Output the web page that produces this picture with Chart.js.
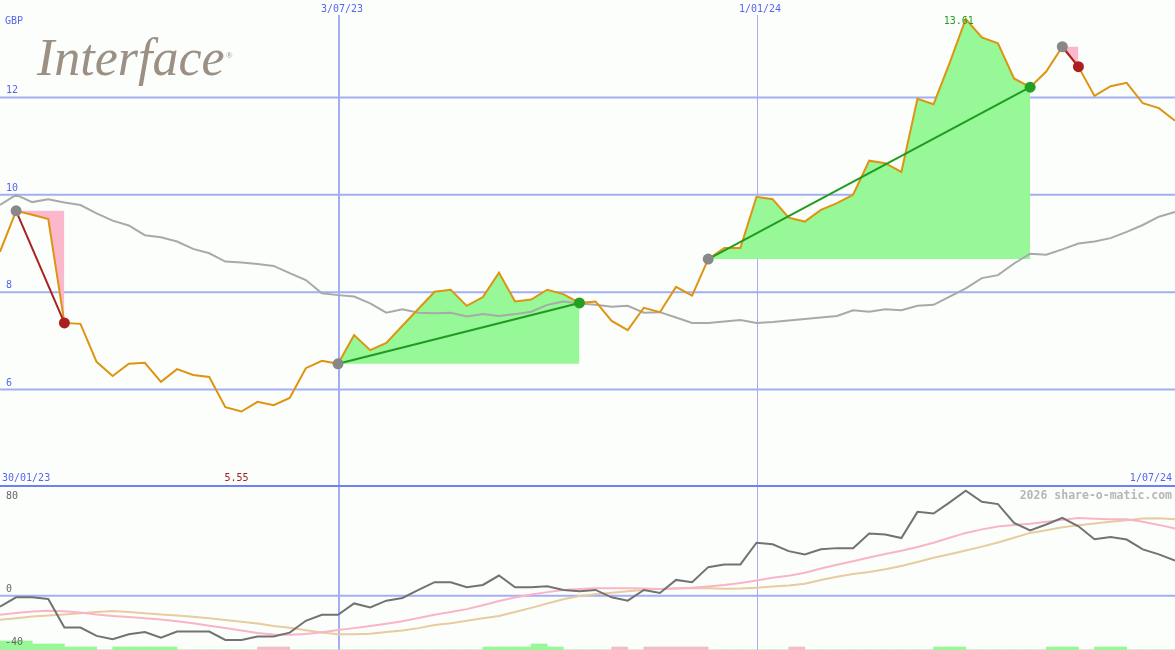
<!DOCTYPE html>
<html><head><meta charset="utf-8">
<script src="https://cdn.jsdelivr.net/npm/chart.js@4.4.1/dist/chart.umd.min.js"></script>
<style>
html,body{margin:0;padding:0;background:#fcfefc;}
#wrap{position:relative;width:1175px;height:650px;overflow:hidden;background:#fcfefc;}
#top{position:absolute;left:0;top:0;}
#bot{position:absolute;left:0;top:487px;}
</style></head><body>
<div id="wrap"><canvas id="top" width="1175" height="487"></canvas><canvas id="bot" width="1175" height="163"></canvas></div>
<script>
// ---------- data (weekly closes, index 0..73) ----------
const dateLabels = ['30/01/23', '3/07/23', '1/01/24', '1/07/24'];
const dateTickIdx = [0, 21, 47, 73];
const priceTicks = [6, 8, 10, 12];
const oscTicks = [80, 0, -40];

const price = [8.83,9.67,9.59,9.50,7.37,7.35,6.57,6.28,6.53,6.55,
  6.16,6.42,6.30,6.26,5.64,5.55,5.75,5.68,5.83,6.44,
  6.59,6.53,7.12,6.81,6.96,7.31,7.66,8.01,8.05,7.72,
  7.90,8.40,7.81,7.85,8.05,7.96,7.78,7.81,7.41,7.22,
  7.68,7.59,8.11,7.93,8.68,8.91,8.91,9.96,9.91,9.53,
  9.45,9.69,9.83,10.00,10.70,10.65,10.47,11.97,11.86,12.71,
  13.61,13.23,13.11,12.39,12.21,12.53,13.04,12.63,12.03,12.23,
  12.30,11.88,11.78,11.52];

const movAvg = [9.79,10.00,9.85,9.91,9.84,9.79,9.62,9.47,9.37,9.17,
  9.13,9.04,8.89,8.80,8.63,8.61,8.58,8.54,8.39,8.25,
  7.98,7.94,7.91,7.77,7.58,7.65,7.58,7.57,7.58,7.50,
  7.55,7.51,7.55,7.60,7.74,7.81,7.77,7.74,7.70,7.72,
  7.58,7.59,7.48,7.37,7.37,7.40,7.43,7.37,7.39,7.42,
  7.45,7.48,7.51,7.63,7.60,7.65,7.63,7.72,7.74,7.91,
  8.08,8.29,8.35,8.59,8.79,8.77,8.88,9.00,9.04,9.11,
  9.24,9.38,9.55,9.65];

const oscMain = [-8.1,-1.2,-1.2,-2.5,-23.5,-23.5,-29.6,-32,-28.4,-26.7,
  -30.9,-26.4,-26.4,-26.4,-32.6,-32.6,-30.1,-30.1,-27.2,-18.5,
  -14.1,-14.1,-5.7,-8.6,-3.7,-1.7,4.2,9.9,9.9,6.2,
  7.9,14.8,6.2,6.2,6.9,4.2,3.2,4.2,-1.2,-3.7,
  4.2,2.0,11.6,9.9,21.0,23.0,23.0,39.0,37.8,32.8,
  30.4,34.1,35.0,35.0,45.7,45.0,42.4,61.7,60.5,68.7,
  77.3,69.1,67.4,53.6,48.1,52.4,57.3,51.1,41.5,43.2,
  41.3,34.1,30.4,25.9];

const oscFast = [-14.1,-12.8,-11.6,-11.1,-11.4,-12.4,-13.9,-14.9,-15.7,-16.6,
  -17.5,-18.8,-20.3,-22.1,-23.8,-25.7,-27.5,-28.5,-28.8,-28.3,
  -26.9,-25.3,-23.9,-22.4,-20.7,-18.8,-16.4,-14.1,-12.0,-9.9,
  -7.0,-3.9,-1.4,0.9,2.6,4.1,4.9,5.4,5.4,5.4,
  5.3,5.0,5.2,5.8,6.8,7.9,9.3,11.2,13.2,14.7,
  16.9,20.0,22.7,25.3,28.1,30.6,33.0,35.8,38.9,42.6,
  46.2,48.8,50.9,52.1,53.0,54.4,55.8,57.2,56.7,56.3,
  56.3,54.4,52.1,49.4];

const oscSlow = [-17.8,-16.6,-15.4,-14.6,-13.8,-12.9,-12.0,-11.3,-12.0,-12.9,
  -13.8,-14.6,-15.6,-16.7,-17.9,-19.2,-20.5,-22.3,-23.6,-25.4,
  -27.2,-28.4,-28.4,-28.1,-26.8,-25.7,-23.9,-21.6,-20.3,-18.5,
  -16.7,-14.9,-12.0,-9.0,-5.8,-2.6,-0.3,1.0,2.1,3.3,
  4.2,5.0,5.4,5.4,5.4,5.1,5.2,5.9,6.7,7.5,
  8.8,11.6,14.0,15.9,17.5,19.4,21.8,24.8,27.9,30.5,
  33.3,36.1,39.2,42.6,46.2,48.2,50.3,51.8,53.2,54.4,
  55.6,56.8,57.0,56.3];

// signal strength bars per week interval (0..72)
const buyBars  = [3,3,2,2,1,1,0,1,1,1, 1,0,0,0,0,0,0,0,0,0, 0,0,0,0,0,0,0,0,0,0,
  1,1,1,2,1,0,0,0,0,0, 0,0,0,0,0,0,0,0,0,0, 0,0,0,0,0,0,0,0,1,1,
  0,0,0,0,0,1,1,0,1,1, 0,0,0];
const sellBars = [0,0,0,0,0,0,0,0,0,0, 0,0,0,0,0,0,1,1,0,0, 0,0,0,0,0,0,0,0,0,0,
  0,0,0,0,0,0,0,0,1,0, 1,1,1,1,0,0,0,0,0,1, 0,0,0,0,0,0,0,0,0,0,
  0,0,0,0,0,0,0,0,0,0, 0,0,0];

// trades: [entryIndex, exitIndex, type]
const tradeEntry = [1, 21, 44, 66];
const tradeExit  = [4, 36, 64, 67];
const tradeType  = ['short', 'long', 'long', 'short'];

const lowIdx = 15, lowLabel = '5.55';
const highIdx = 60, highLabel = '13.61';

// ---------- styles ----------
const GRID = '#a4aef2';
const BLUE_TXT = '#5566ee';
const MONO = '"DejaVu Sans Mono", monospace';

const pts = (arr, a, b) => arr.slice(a, b + 1).map((v, i) => ({x: a + i, y: v}));

function line(ctx, x1, y1, x2, y2){ ctx.beginPath(); ctx.moveTo(x1, y1); ctx.lineTo(x2, y2); ctx.stroke(); }

// ---------- top chart ----------
const topSets = [];
topSets.push({data: pts(movAvg, 0, 73), borderColor: '#a9a9a9', borderWidth: 2, pointRadius: 0, tension: 0, order: 5});
topSets.push({data: pts(price, 0, 73), borderColor: '#de9410', borderWidth: 2, pointRadius: 0, tension: 0, order: 4});
tradeEntry.forEach((e, i) => {
  const x = tradeExit[i];
  const isLong = tradeType[i] === 'long';
  topSets.push({data: pts(price, e, x), borderWidth: 0, pointRadius: 0, tension: 0,
    backgroundColor: isLong ? '#96f896' : '#fbb8cc', fill: {value: price[e]}, order: 8});
  topSets.push({data: [{x: e, y: price[e]}, {x: x, y: price[x]}],
    borderColor: isLong ? '#219a21' : '#a82222', borderWidth: 2, tension: 0,
    pointRadius: 5.5, pointBorderWidth: 0,
    pointBackgroundColor: ['#888888', isLong ? '#22a022' : '#aa2020'], order: 1});
});

const topPlugin = {
  id: 'topDeco',
  beforeDatasetsDraw(chart){
    const {ctx, chartArea: a, scales: {x, y}} = chart;
    ctx.save();
    ctx.strokeStyle = GRID;
    ctx.lineWidth = 2;
    priceTicks.forEach(v => { const py = y.getPixelForValue(v); line(ctx, 0, py, a.right, py); });
    ctx.lineWidth = 2; let px = x.getPixelForValue(dateTickIdx[1]) + 1; line(ctx, px, 15, px, a.bottom);
    ctx.lineWidth = 1; px = Math.round(x.getPixelForValue(dateTickIdx[2])) + 0.5; line(ctx, px, 15, px, a.bottom);
    ctx.restore();
  },
  afterDraw(chart){
    const {ctx, chartArea: a, scales: {x, y}} = chart;
    ctx.save();
    // divider
    ctx.strokeStyle = '#6f80f0'; ctx.lineWidth = 2; line(ctx, 0, a.bottom - 1, a.right, a.bottom - 1);
    // logo
    ctx.fillStyle = '#9b9083';
    ctx.font = 'italic 52px "Liberation Serif", serif';
    ctx.textBaseline = 'alphabetic'; ctx.textAlign = 'left';
    ctx.fillText('Interface', 37, 75);
    const w = ctx.measureText('Interface').width;
    ctx.font = '9px "Liberation Serif", serif';
    ctx.fillText('\u00AE', 37 + w + 1, 58);
    // labels
    ctx.font = '10px ' + MONO; ctx.textBaseline = 'middle';
    ctx.fillStyle = BLUE_TXT;
    ctx.fillText('GBP', 5, 21.5);
    priceTicks.forEach(v => ctx.fillText(String(v), 6, y.getPixelForValue(v) - 6.5));
    ctx.textAlign = 'center';
    ctx.fillText(dateLabels[1], x.getPixelForValue(dateTickIdx[1]) + 4, 9);
    ctx.fillText(dateLabels[2], x.getPixelForValue(dateTickIdx[2]) + 3.5, 9);
    ctx.textAlign = 'left'; ctx.fillText(dateLabels[0], 2, 478);
    ctx.textAlign = 'right'; ctx.fillText(dateLabels[3], a.right - 3, 478);
    ctx.textAlign = 'center';
    ctx.fillStyle = '#a02020'; ctx.fillText(lowLabel, x.getPixelForValue(lowIdx) - 5, 478);
    ctx.fillStyle = '#22a022'; ctx.fillText(highLabel, x.getPixelForValue(highIdx) - 7, 21.5);
    ctx.restore();
  }
};

new Chart(document.getElementById('top'), {
  type: 'line',
  data: {datasets: topSets},
  options: {
    responsive: false, animation: false, events: [], devicePixelRatio: 1,
    layout: {padding: 0, autoPadding: false},
    plugins: {legend: {display: false}, tooltip: {enabled: false}},
    scales: {
      x: {type: 'linear', min: 0, max: 73, display: false},
      y: {type: 'linear', min: 4, max: 14, display: false}
    }
  },
  plugins: [topPlugin]
});

// ---------- bottom chart ----------
const barIdx = buyBars.map((_, k) => k + 0.5);
const botSets = [
  {type: 'bar', data: buyBars.map((v, k) => ({x: barIdx[k], y: v})), backgroundColor: '#98f898',
   yAxisID: 'yb', barPercentage: 1, categoryPercentage: 1, grouped: false, borderWidth: 0, order: 10},
  {type: 'bar', data: sellBars.map((v, k) => ({x: barIdx[k], y: v})), backgroundColor: '#fbb8cc',
   yAxisID: 'yb', barPercentage: 1, categoryPercentage: 1, grouped: false, borderWidth: 0, order: 10},
  {type: 'line', data: pts(oscSlow, 0, 73), borderColor: '#e6cc9e', borderWidth: 2, pointRadius: 0, tension: 0, yAxisID: 'y', order: 4},
  {type: 'line', data: pts(oscFast, 0, 73), borderColor: '#f9b4c8', borderWidth: 2, pointRadius: 0, tension: 0, yAxisID: 'y', order: 3},
  {type: 'line', data: pts(oscMain, 0, 73), borderColor: '#727272', borderWidth: 2, pointRadius: 0, tension: 0, yAxisID: 'y', order: 1}
];

const botPlugin = {
  id: 'botDeco',
  beforeDatasetsDraw(chart){
    const {ctx, chartArea: a, scales: {x, y}} = chart;
    ctx.save();
    ctx.strokeStyle = GRID;
    ctx.lineWidth = 2; const py = y.getPixelForValue(0); line(ctx, 0, py, a.right, py);
    let px = x.getPixelForValue(dateTickIdx[1]) + 1; line(ctx, px, 0, px, a.bottom);
    ctx.lineWidth = 1; px = Math.round(x.getPixelForValue(dateTickIdx[2])) + 0.5; line(ctx, px, 0, px, a.bottom);
    ctx.restore();
  },
  afterDraw(chart){
    const {ctx, chartArea: a, scales: {y}} = chart;
    ctx.save();
    ctx.textBaseline = 'middle'; ctx.textAlign = 'left';
    ctx.font = '10px ' + MONO; ctx.fillStyle = '#666666';
    ctx.fillText(String(oscTicks[0]), 6, 9.5);
    ctx.fillText(String(oscTicks[1]), 6, y.getPixelForValue(0) - 6);
    ctx.fillText(String(oscTicks[2]), 5, 155.5);
    ctx.font = 'bold 11.5px ' + MONO; ctx.fillStyle = '#b6b6b6'; ctx.textAlign = 'right';
    ctx.fillText('2026 share-o-matic.com', a.right - 3, 9.5);
    ctx.restore();
  }
};

new Chart(document.getElementById('bot'), {
  data: {datasets: botSets},
  options: {
    responsive: false, animation: false, events: [], devicePixelRatio: 1,
    layout: {padding: 0, autoPadding: false},
    plugins: {legend: {display: false}, tooltip: {enabled: false}},
    scales: {
      x: {type: 'linear', min: 0, max: 73, display: false, offset: false},
      y: {type: 'linear', min: -40, max: 80, display: false},
      yb: {type: 'linear', min: 0, max: 54, display: false}
    }
  },
  plugins: [botPlugin]
});
</script>
</body></html>
